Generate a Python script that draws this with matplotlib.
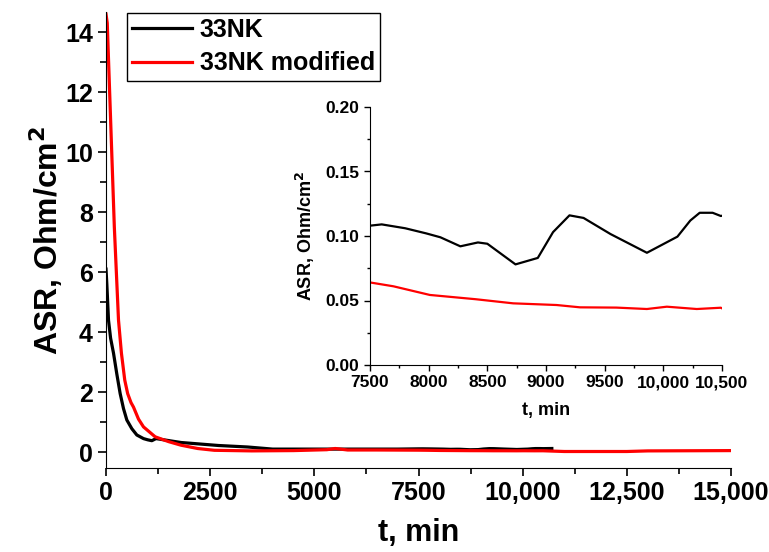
import matplotlib

matplotlib.use("Agg")
import matplotlib.pyplot as plt
from matplotlib.ticker import MultipleLocator, FuncFormatter

plt.rcParams["font.family"] = ["Liberation Sans", "DejaVu Sans"]
plt.rcParams["font.weight"] = "bold"

# 33NK (black), t in min, ASR in Ohm/cm2
t_nk = [0, 20, 60, 110, 180, 260, 340, 420, 500, 620, 740, 900, 1000, 1100, 1200, 1800,
        2700, 3400, 4000, 5000, 6000, 7000, 7500, 7600, 7800, 7980, 8100, 8270, 8420, 8500,
        8740, 8930, 9060, 9200, 9320, 9550, 9860, 10120, 10230, 10310, 10420, 10490, 10700]
asr_nk = [6.1, 5.6, 4.4, 3.8, 3.3, 2.6, 1.95, 1.45, 1.07, 0.78, 0.57, 0.45, 0.41, 0.38, 0.45, 0.32,
          0.22, 0.17, 0.1, 0.1, 0.1, 0.1, 0.108, 0.109, 0.106, 0.102, 0.099, 0.092, 0.095, 0.094,
          0.078, 0.083, 0.103, 0.116, 0.114, 0.1015, 0.087, 0.0995, 0.112, 0.118, 0.118, 0.1155, 0.12]

# 33NK modified (red)
t_mod = [0, 30, 200, 300, 370, 450, 520, 560, 600, 660, 780, 900, 1180, 1500, 1800, 2200,
         2600, 3500, 4500, 5300, 5500, 5800, 6500, 7500, 7700, 8010, 8400, 8720, 9090, 9290,
         9600, 9860, 10030, 10285, 10490, 11000, 12500, 13000, 15000]
asr_mod = [14.6, 14.3, 7.5, 4.4, 3.3, 2.4, 1.95, 1.8, 1.65, 1.5, 1.1, 0.84, 0.51, 0.35, 0.23, 0.12,
           0.06, 0.04, 0.05, 0.08, 0.12, 0.07, 0.07, 0.064, 0.061, 0.0543, 0.051, 0.0478, 0.0465, 0.0447,
           0.0445, 0.0434, 0.0452, 0.0434, 0.0444, 0.02, 0.02, 0.04, 0.05]


def thousands(x, pos):
    return f"{int(x):,}" if x >= 10000 else f"{int(x)}"


fig = plt.figure(figsize=(7.69, 5.52), dpi=100)
ax = fig.add_axes([106 / 769, 1 - 468 / 552, 625 / 769, 456 / 552])
ax.plot(t_nk, asr_nk, color="black", lw=2.3, label="33NK")
ax.plot(t_mod, asr_mod, color="red", lw=2.3, label="33NK modified")
ax.set_xlim(0, 15000)
ax.set_ylim(-0.53, 14.67)
ax.xaxis.set_major_locator(MultipleLocator(2500))
ax.xaxis.set_minor_locator(MultipleLocator(1250))
ax.yaxis.set_major_locator(MultipleLocator(2))
ax.yaxis.set_minor_locator(MultipleLocator(1))
ax.xaxis.set_major_formatter(FuncFormatter(thousands))
for s in ("top", "right"):
    ax.spines[s].set_visible(False)
ax.tick_params(which="major", length=6, width=1.2, labelsize=18)
ax.tick_params(which="minor", length=4, width=1.2)
ax.set_xlabel("t, min", fontsize=22, fontweight="bold", labelpad=9)
ax.set_ylabel("ASR, Ohm/cm$^{\\mathbf{2}}$", fontsize=23, fontweight="bold", labelpad=0)
leg = ax.legend(loc="upper left", bbox_to_anchor=(127 / 769, 1 - 13 / 552),
                bbox_transform=fig.transFigure, borderaxespad=0, fancybox=False,
                edgecolor="black", framealpha=1, handlelength=2.4, handletextpad=0.3,
                labelspacing=0.38, borderpad=0.2, prop={"size": 18, "weight": "bold"})
leg.get_frame().set_linewidth(1.0)

ins = fig.add_axes([370 / 769, 1 - 365 / 552, 352 / 769, 258 / 552])
ins.plot(t_nk, asr_nk, color="black", lw=1.6)
ins.plot(t_mod, asr_mod, color="red", lw=1.6)
ins.set_xlim(7500, 10500)
ins.set_ylim(0, 0.2)
ins.xaxis.set_major_locator(MultipleLocator(500))
ins.xaxis.set_minor_locator(MultipleLocator(250))
ins.yaxis.set_major_locator(MultipleLocator(0.05))
ins.yaxis.set_minor_locator(MultipleLocator(0.025))
ins.xaxis.set_major_formatter(FuncFormatter(thousands))
ins.yaxis.set_major_formatter(FuncFormatter(lambda y, p: f"{y:.2f}"))
for s in ("top", "right"):
    ins.spines[s].set_visible(False)
ins.tick_params(which="major", length=4, width=1, labelsize=12.5)
ins.tick_params(which="minor", length=2.5, width=1)
ins.set_xlabel("t, min", fontsize=13, fontweight="bold", labelpad=8)
ins.set_ylabel("ASR, Ohm/cm$^{\\mathbf{2}}$", fontsize=13, fontweight="bold", labelpad=6)

fig.savefig("out.png", dpi=100)
